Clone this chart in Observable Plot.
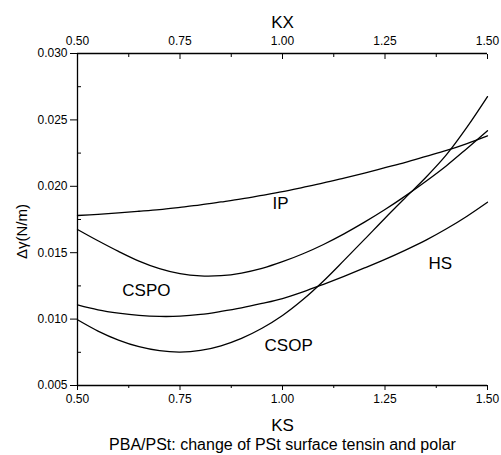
<!DOCTYPE html>
<html><head><meta charset="utf-8">
<script src="https://cdn.jsdelivr.net/npm/d3@7"></script>
<script src="https://cdn.jsdelivr.net/npm/@observablehq/plot@0.6"></script>
<style>
body{margin:0;background:#fff;}
svg{font-family:"Liberation Sans",Arial,sans-serif;}
</style>
</head><body><div id="chart"></div>
<script>
// KS values (x)
const ks = [0.50,0.55,0.60,0.65,0.70,0.75,0.80,0.85,0.90,0.95,1.00,1.05,1.10,1.15,1.20,1.25,1.30,1.35,1.40,1.45,1.50];
// Δγ (N/m) per curve
const IP   = [0.01780,0.01789,0.01800,0.01812,0.01825,0.01842,0.01860,0.01882,0.01905,0.01932,0.01960,0.01992,0.02025,0.02062,0.02100,0.02140,0.02180,0.02225,0.02270,0.02322,0.02380];
const CSPO = [0.01675,0.01590,0.01510,0.01437,0.01380,0.01342,0.01325,0.01327,0.01347,0.01382,0.01432,0.01492,0.01562,0.01642,0.01730,0.01825,0.01928,0.02038,0.02155,0.02285,0.02418];
const HS   = [0.01107,0.01070,0.01045,0.01028,0.01020,0.01022,0.01035,0.01058,0.01085,0.01118,0.01155,0.01205,0.01262,0.01322,0.01385,0.01450,0.01520,0.01595,0.01680,0.01775,0.01880];
const CSOP = [0.00995,0.00910,0.00842,0.00792,0.00762,0.00752,0.00764,0.00799,0.00855,0.00931,0.01027,0.01147,0.01287,0.01442,0.01600,0.01760,0.01915,0.02068,0.02238,0.02445,0.02675];

const seriesNames = ["IP","CSPO","HS","CSOP"];
const seriesValues = [IP, CSPO, HS, CSOP];

// curve labels
const labelText = ["IP","CSPO","HS","CSOP"];
const labelX = [0.995, 0.668, 1.385, 1.015];
const labelY = [0.0187, 0.01215, 0.01415, 0.0080];

// ticks
const xMajor = [0.50,0.75,1.00,1.25,1.50];
const xMinor = [0.625,0.875,1.125,1.375];
const yMajor = [0.005,0.010,0.015,0.020,0.025,0.030];
const yMinor = [0.0075,0.0125,0.0175,0.0225,0.0275];

const data = [];
seriesNames.forEach((s, i) => ks.forEach((x, j) => data.push({series: s, x, y: seriesValues[i][j]})));
const labels = labelText.map((t, i) => ({text: t, x: labelX[i], y: labelY[i]}));

const none = () => "";
const chart = Plot.plot({
  width: 501, height: 455,
  marginTop: 53, marginRight: 14, marginBottom: 70, marginLeft: 77,
  style: {fontFamily: '"Liberation Sans", Arial, sans-serif', color: "black", background: "white"},
  x: {domain: [0.5, 1.5]},
  y: {domain: [0.005, 0.030]},
  marks: [
    Plot.ruleY([0.005], {stroke: "black", strokeWidth: 1.3}),
    Plot.ruleY([0.030], {stroke: "black", strokeWidth: 1.3}),
    Plot.ruleX([0.5], {stroke: "black", strokeWidth: 1.3}),
    // left axis
    Plot.axisY({ticks: yMajor, tickSize: 7, tickPadding: 3, tickFormat: d3.format(".3f"), fontSize: 12, label: null}),
    Plot.axisY({ticks: yMinor, tickSize: -4, tickFormat: none, label: null}),
    // bottom axis
    Plot.axisX({anchor: "bottom", ticks: xMajor, tickSize: 5, tickPadding: 4, tickFormat: d3.format(".2f"), fontSize: 12, label: null}),
    Plot.axisX({anchor: "bottom", ticks: xMinor, tickSize: 3, tickFormat: none, label: null}),
    // top axis
    Plot.axisX({anchor: "top", ticks: xMajor, tickSize: 0, tickPadding: 9, tickFormat: d3.format(".2f"), fontSize: 12, label: null}),
    Plot.axisX({anchor: "top", ticks: xMajor, tickSize: -5, tickFormat: none, label: null}),
    Plot.axisX({anchor: "top", ticks: xMinor, tickSize: -3, tickFormat: none, label: null}),
    // curves
    Plot.line(data, {x: "x", y: "y", z: "series", curve: "catmull-rom", stroke: "black", strokeWidth: 1.3}),
    Plot.text(labels, {x: "x", y: "y", text: "text", fontSize: 17}),
    // axis titles and caption
    Plot.text(["KX"], {frameAnchor: "top", lineAnchor: "middle", dy: -31, fontSize: 17}),
    Plot.text(["KS"], {frameAnchor: "bottom", lineAnchor: "middle", dy: 40, fontSize: 17}),
    Plot.text(["Δγ(N/m)"], {frameAnchor: "left", textAnchor: "middle", lineAnchor: "middle", dx: -55, dy: 12, rotate: -90, fontSize: 15}),
    Plot.text(["PBA/PSt: change of PSt surface tensin and polar"], {frameAnchor: "bottom", lineAnchor: "middle", dy: 59, fontSize: 16})
  ]
});
document.getElementById("chart").appendChild(chart);
</script>
</body></html>
